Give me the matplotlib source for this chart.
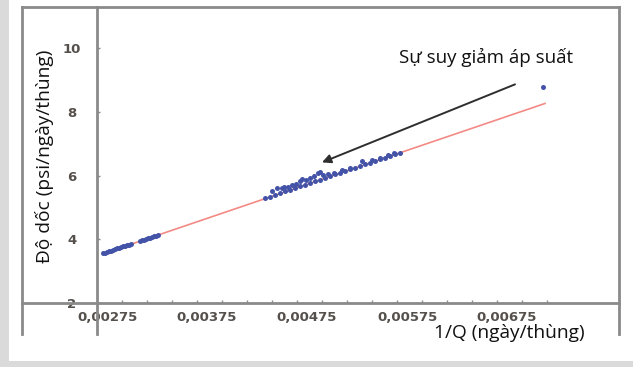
import matplotlib.pyplot as plt
from matplotlib.patches import Rectangle

plt.rcParams['font.family'] = ['Open Sans', 'DejaVu Sans']

# Data
seg_x = [0.00271, 0.00273, 0.00275, 0.00277, 0.00279, 0.00281, 0.00283, 0.00285,
         0.00287, 0.00289, 0.00291, 0.00293, 0.00295, 0.00297, 0.00299,
         0.00308, 0.00310, 0.00312, 0.00314, 0.00316, 0.00318, 0.00320, 0.00322,
         0.00324, 0.00326,
         0.00433, 0.00438, 0.00443, 0.00448, 0.00453, 0.00458, 0.00463, 0.00468,
         0.00473, 0.00478, 0.00483, 0.00488, 0.00493, 0.00498, 0.00503, 0.00508,
         0.00513, 0.00518, 0.00523, 0.00528, 0.00533, 0.00538, 0.00543, 0.00548,
         0.00553, 0.00558, 0.00563, 0.00568]
seg_y = [3.56, 3.58, 3.61, 3.63, 3.65, 3.67, 3.69, 3.72,
         3.74, 3.76, 3.78, 3.80, 3.82, 3.84, 3.87,
         3.95, 3.97, 3.99, 4.02, 4.04, 4.06, 4.08, 4.10,
         4.12, 4.15,
         5.29, 5.34, 5.40, 5.45, 5.51, 5.56, 5.61, 5.67,
         5.72, 5.77, 5.83, 5.88, 5.93, 5.99, 6.04, 6.09,
         6.15, 6.20, 6.25, 6.31, 6.36, 6.41, 6.47, 6.52,
         6.57, 6.63, 6.68, 6.73]
upper_x = [0.00440, 0.00445, 0.00450, 0.00452, 0.00456, 0.00460, 0.00464, 0.00468,
           0.00470, 0.00474, 0.00478, 0.00482, 0.00486, 0.00488, 0.00491, 0.00496,
           0.00502, 0.00510, 0.00518, 0.00530, 0.00540, 0.00548, 0.00556, 0.00562,
           0.00711]
upper_y = [5.52, 5.60, 5.62, 5.66, 5.64, 5.70, 5.75, 5.84,
           5.89, 5.86, 5.92, 6.00, 6.08, 6.11, 6.02, 6.05,
           6.10, 6.17, 6.25, 6.45, 6.48, 6.55, 6.65, 6.70,
           8.80]
fit_x = [0.00271, 0.00713]
fit_y = [3.55, 8.27]

x_minor = [0.00290, 0.00315, 0.00340, 0.00365, 0.00390, 0.00415, 0.00440, 0.00465,
           0.00490, 0.00515, 0.00540, 0.00565, 0.00590, 0.00615, 0.00640, 0.00665,
           0.00690, 0.00715]
x_labels_pos = [0.00275, 0.00375, 0.00475, 0.00575, 0.00675]
x_labels = ['0,00275', '0,00375', '0,00475', '0,00575', '0,00675']
y_ticks = [2, 4, 6, 8, 10]

W, H = 633, 367
fig = plt.figure(figsize=(W / 100, H / 100), dpi=100)
fig.patch.set_facecolor('white')

# light grey page strips
fig.patches.append(Rectangle((0, 0), 9 / W, 1, transform=fig.transFigure,
                             facecolor='#dadada', edgecolor='none', zorder=0))
fig.patches.append(Rectangle((0, 0), 1, 6 / H, transform=fig.transFigure,
                             facecolor='#dadada', edgecolor='none', zorder=0))

pos = [22 / W, 1 - 334 / H, (619 - 22) / W, (334 - 7) / H]

# outer frame
frame = fig.add_axes(pos)
frame.set_xticks([])
frame.set_yticks([])
frame.spines['bottom'].set_visible(False)
for s in ['left', 'top', 'right']:
    frame.spines[s].set_color('#8a8a8a')
    frame.spines[s].set_linewidth(2)
frame.patch.set_alpha(0)

ax = fig.add_axes(pos)
ax.patch.set_alpha(0)
ax.set_xlim(0.0019, 0.00787)
ax.set_ylim(1.03, 11.3)

ax.spines['left'].set_position(('data', 0.00265))
ax.spines['bottom'].set_position(('data', 2))
ax.spines['top'].set_visible(False)
ax.spines['right'].set_visible(False)
for s in ['left', 'bottom']:
    ax.spines[s].set_color('#8a8a8a')
    ax.spines[s].set_linewidth(2)

ax.plot(fit_x, fit_y, color='#f38a84', lw=1.2, zorder=2)
ax.plot(seg_x, seg_y, 'o', ms=3.6, color='#4353a8', mew=0, zorder=3)
ax.plot(upper_x, upper_y, 'o', ms=3.6, color='#4353a8', mew=0, zorder=3)

ax.set_yticks(y_ticks)
ax.set_yticklabels([str(v) for v in y_ticks])
ax.tick_params(axis='y', direction='in', length=2.5, width=1, color='#8a8a8a',
               pad=18, labelsize=9.5, labelcolor='#55504c')
for t in ax.get_yticklabels():
    t.set_fontweight('bold')
    t.set_family('DejaVu Sans')
    t.set_ha('center')

ax.set_xticks(x_labels_pos)
ax.set_xticklabels(x_labels)
ax.set_xticks(x_minor, minor=True)
ax.tick_params(axis='x', which='major', length=0, pad=6, labelsize=9.5,
               labelcolor='#55504c')
ax.tick_params(axis='x', which='minor', direction='in', length=2, width=1,
               color='#8a8a8a')
for t in ax.get_xticklabels():
    t.set_fontweight('bold')
    t.set_family('DejaVu Sans')

ax.annotate('', xy=(0.00490, 6.42), xytext=(0.00683, 8.87),
            arrowprops=dict(arrowstyle='-|>', color='#2e2e2e', lw=1.4,
                            mutation_scale=13, shrinkA=0, shrinkB=0))
ax.text(0.00654, 9.71, 'Sự suy giảm áp suất', ha='center', va='center',
        fontsize=13.5, color='#111111')

fig.text(45 / W, 1 - 156 / H, 'Độ dốc (psi/ngày/thùng)', rotation=90,
         ha='center', va='center', fontsize=13.8, color='#111111')
fig.text(509 / W, 1 - 333 / H, '1/Q (ngày/thùng)', ha='center', va='center',
         fontsize=13.8, color='#111111')

fig.savefig('out.png', dpi=100)
